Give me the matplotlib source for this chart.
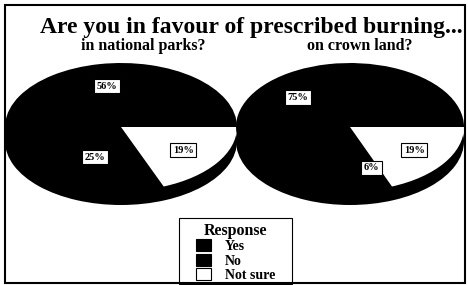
import matplotlib.pyplot as plt
from matplotlib.patches import Rectangle, Patch

responses = ["Yes", "No", "Not sure"]
parks = [56, 25, 19]
crown = [75, 6, 19]
colors = ["black", "black", "white"]

W, H = 468, 285
fig = plt.figure(figsize=(W / 100, H / 100), dpi=100)
fig.patch.set_facecolor("white")

serif = "Liberation Serif"


def draw_pie(values, cx, cy, a, b, depth, nudge=None):
    # axes box covers the ellipse plus the side wall below it
    ax = fig.add_axes([(cx - a) / W, (H - (cy + b + depth)) / H, 2 * a / W, (2 * b + depth) / H])
    # side wall
    ax.pie([1], colors=["black"], radius=1, center=(0, -depth / b), frame=True,
           wedgeprops=dict(linewidth=0))
    wedges, texts, autotexts = ax.pie(values, colors=colors, startangle=0, counterclock=True,
                                      radius=1, center=(0, 0), frame=True,
                                      autopct="%d%%", pctdistance=0.65,
                                      wedgeprops=dict(linewidth=0))
    ax.set_aspect("auto")
    ax.set_xlim(-1, 1)
    ax.set_ylim(-1 - depth / b, 1)
    ax.axis("off")
    for i, t in enumerate(autotexts):
        t.set_fontfamily(serif)
        t.set_fontweight("bold")
        t.set_fontsize(7.5)
        t.set_color("black")
        t.set_bbox(dict(facecolor="white", edgecolor="black", linewidth=0.8,
                        boxstyle="square,pad=0.25"))
        if nudge and i in nudge:
            x, y = t.get_position()
            dx, dy = nudge[i]
            t.set_position((x + dx / a, y - dy / b))
    return autotexts


draw_pie(parks, 121, 127, 116, 64, 14, nudge={1: (4, -8)})
draw_pie(crown, 350, 127, 114, 64, 14, nudge={1: (8, 0), 2: (3, 0)})

fig.text(251 / W, 1 - 28 / H, "Are you in favour of prescribed burning...",
         ha="center", va="center", fontsize=17, fontweight="bold", fontfamily=serif)
fig.text(143 / W, 1 - 46 / H, "in national parks?", ha="center", va="center",
         fontsize=11.5, fontweight="bold", fontfamily=serif)
fig.text(360 / W, 1 - 46 / H, "on crown land?", ha="center", va="center",
         fontsize=11.5, fontweight="bold", fontfamily=serif)

handles = [Patch(facecolor=c, edgecolor="black", linewidth=0.8) for c in colors]
leg = fig.legend(handles, responses, loc="upper center",
                 bbox_to_anchor=(235.5 / W, 1 - 220 / H), frameon=False,
                 title="Response", handlelength=1.1, handleheight=0.95,
                 labelspacing=0.05, borderpad=0.2, handletextpad=1.0, borderaxespad=0,
                 prop=dict(family=serif, weight="bold", size=10))
leg.get_title().set_fontfamily(serif)
leg.get_title().set_fontweight("bold")
leg.get_title().set_fontsize(11.5)

# legend frame
fig.add_artist(Rectangle((179 / W, 1 - 284 / H), 113 / W, 66 / H, transform=fig.transFigure,
                         fill=False, edgecolor="black", linewidth=0.8))

fig.add_artist(Rectangle((5 / W, 2 / H), 460 / W, 278 / H, transform=fig.transFigure,
                         fill=False, edgecolor="black", linewidth=1.5))

fig.savefig("out.png", dpi=100)
